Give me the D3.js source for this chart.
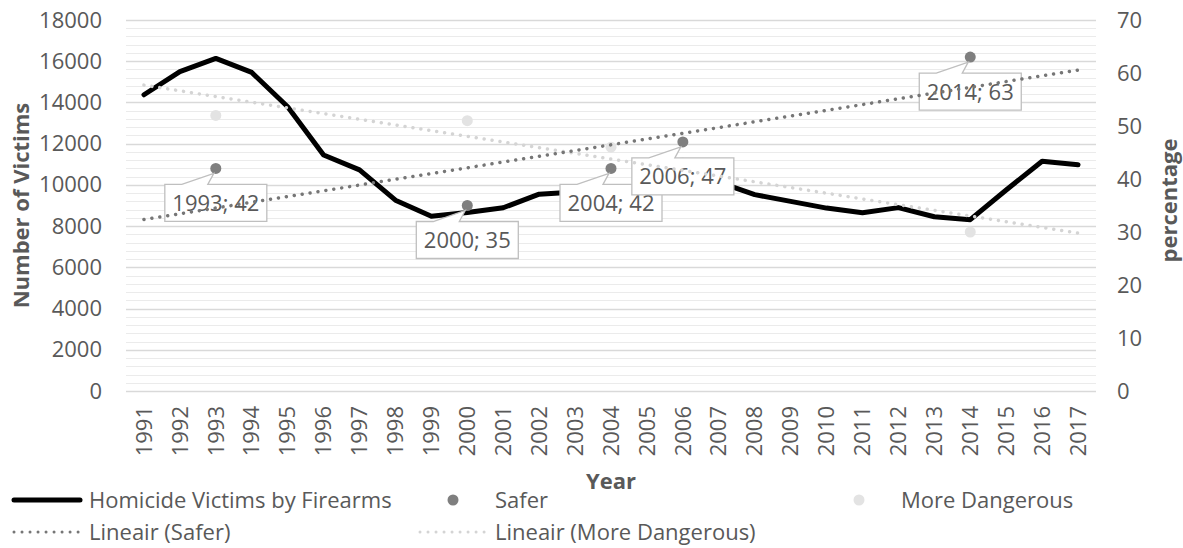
<!DOCTYPE html>
<html>
<head>
<meta charset="utf-8">
<script src="https://cdn.jsdelivr.net/npm/d3@7"></script>
<style>
  html, body { margin: 0; padding: 0; background: #ffffff; }
  svg { display: block; font-family: "Open Sans", "Noto Sans", sans-serif; }
</style>
</head>
<body>
<svg id="chart" width="1183" height="548"></svg>
<script>
// ---- data ----
const years = [1991, 1992, 1993, 1994, 1995, 1996, 1997, 1998, 1999, 2000,
               2001, 2002, 2003, 2004, 2005, 2006, 2007, 2008, 2009, 2010,
               2011, 2012, 2013, 2014, 2015, 2016, 2017];
const homicideVictims = [14373, 15500, 16136, 15456, 13790, 11453, 10729, 9257, 8480, 8661,
                         8890, 9550, 9659, 9385, 10158, 10225, 10129, 9528, 9199, 8874,
                         8653, 8897, 8454, 8312, 9750, 11150, 10982];
const surveyYears = [1993, 2000, 2004, 2006, 2014];
const saferPct = [42, 35, 42, 47, 63];
const dangerousPct = [52, 51, 46, 43, 30];
const leftTicks = [0, 2000, 4000, 6000, 8000, 10000, 12000, 14000, 16000, 18000];
const rightTicks = [0, 10, 20, 30, 40, 50, 60, 70];
const seriesNames = ["Homicide Victims by Firearms", "Safer", "More Dangerous",
                     "Lineair (Safer)", "Lineair (More Dangerous)"];

// ---- layout ----
const plot = { left: 126, right: 1096, top: 20, bottom: 391 };
const textColor = "#595959";
const fontSize = "22px";

const svg = d3.select("#chart");

const x = d3.scaleBand().domain(years).range([plot.left, plot.right]).padding(0);
const cx = yr => x(yr) + x.bandwidth() / 2;
const yL = d3.scaleLinear().domain([0, 18000]).range([plot.bottom, plot.top]);
const yR = d3.scaleLinear().domain([0, 70]).range([plot.bottom, plot.top]);

// gridlines: minor every 400, major every 2000
const gridVals = d3.range(0, 18001, 400);
svg.append("g").selectAll("line").data(gridVals.filter(v => v % 2000 !== 0)).join("line")
  .attr("x1", plot.left).attr("x2", plot.right)
  .attr("y1", d => Math.round(yL(d)) + 0.5).attr("y2", d => Math.round(yL(d)) + 0.5)
  .attr("stroke", "#ebebeb").attr("stroke-width", 1);
svg.append("g").selectAll("line").data(leftTicks).join("line")
  .attr("x1", plot.left).attr("x2", plot.right)
  .attr("y1", d => Math.round(yL(d)) + 0.5).attr("y2", d => Math.round(yL(d)) + 0.5)
  .attr("stroke", "#d9d9d9").attr("stroke-width", 1.3);

// axes
function styleAxis(g) {
  g.select(".domain").remove();
  g.selectAll(".tick line").remove();
  g.selectAll("text").attr("fill", textColor).style("font-size", fontSize)
    .style("font-family", '"Open Sans", sans-serif');
}
svg.append("g").attr("transform", `translate(${plot.left},0)`)
  .call(d3.axisLeft(yL).tickValues(leftTicks).tickSize(0).tickPadding(24).tickFormat(d3.format("d")))
  .call(styleAxis);
svg.append("g").attr("transform", `translate(${plot.right},0)`)
  .call(d3.axisRight(yR).tickValues(rightTicks).tickSize(0).tickPadding(21).tickFormat(d3.format("d")))
  .call(styleAxis);
const xAxis = svg.append("g").attr("transform", `translate(0,${plot.bottom})`)
  .call(d3.axisBottom(x).tickSize(0).tickFormat(d3.format("d")))
  .call(styleAxis);
xAxis.selectAll("text")
  .attr("transform", "rotate(-90)")
  .attr("x", -15).attr("y", 0).attr("dy", "0.35em")
  .style("text-anchor", "end");

// axis titles
svg.append("text").attr("transform", `translate(29,${(plot.top + plot.bottom) / 2}) rotate(-90)`)
  .attr("text-anchor", "middle").attr("fill", textColor)
  .style("font-size", fontSize).style("font-weight", "bold").text("Number of Victims");
svg.append("text").attr("transform", `translate(1177,${(plot.top + plot.bottom) / 2 - 5}) rotate(-90)`)
  .attr("text-anchor", "middle").attr("fill", textColor)
  .style("font-size", fontSize).style("font-weight", "bold").text("percentage");
svg.append("text").attr("x", (plot.left + plot.right) / 2).attr("y", 489)
  .attr("text-anchor", "middle").attr("fill", textColor)
  .style("font-size", fontSize).style("font-weight", "bold").text("Year");

// homicide line
const homicidePts = years.map((yr, i) => [cx(yr), yL(homicideVictims[i])]);
svg.append("path").attr("d", d3.line()(homicidePts))
  .attr("fill", "none").attr("stroke", "#000").attr("stroke-width", 5)
  .attr("stroke-linejoin", "round").attr("stroke-linecap", "round");

// survey points
const safer = surveyYears.map((yr, i) => ({ yr, v: saferPct[i] }));
const dangerous = surveyYears.map((yr, i) => ({ yr, v: dangerousPct[i] }));
svg.append("g").selectAll("circle").data(dangerous).join("circle")
  .attr("cx", d => cx(d.yr)).attr("cy", d => yR(d.v)).attr("r", 5.5).attr("fill", "#e3e3e3");
svg.append("g").selectAll("circle").data(safer).join("circle")
  .attr("cx", d => cx(d.yr)).attr("cy", d => yR(d.v)).attr("r", 5.5).attr("fill", "#7f7f7f");

// callout labels for the Safer series
const boxW = 102, boxH = 37;
const callouts = svg.append("g").selectAll("g").data(safer).join("g");
callouts.append("path")
  .attr("d", d => {
    const px = cx(d.yr), py = yR(d.v);
    const top = py + 16, l = px - boxW / 2, r = px + boxW / 2, b = top + boxH;
    return `M${l},${top}L${px - 34},${top}L${px - 2},${py + 5}L${px - 8},${top}L${r},${top}L${r},${b}L${l},${b}Z`;
  })
  .attr("fill", "#fff").attr("stroke", "#bfbfbf").attr("stroke-width", 1.3);
callouts.append("text")
  .attr("x", d => cx(d.yr)).attr("y", d => yR(d.v) + 16 + boxH / 2)
  .attr("dy", "0.36em").attr("text-anchor", "middle").attr("fill", textColor)
  .style("font-size", fontSize).text(d => `${d.yr}; ${d.v}`);

// linear trendlines (least squares on category index)
function linearFit(xs, ys) {
  const mx = d3.mean(xs), my = d3.mean(ys);
  const sxy = d3.sum(xs, (v, i) => (v - mx) * (ys[i] - my));
  const sxx = d3.sum(xs, v => (v - mx) * (v - mx));
  const slope = sxy / sxx;
  return t => my + slope * (t - mx);
}
const idx = surveyYears.map(yr => years.indexOf(yr));
const fitSafer = linearFit(idx, saferPct);
const fitDanger = linearFit(idx, dangerousPct);
const first = 0, last = years.length - 1;
function trend(fit, color) {
  svg.append("path")
    .attr("d", d3.line()([[cx(years[first]), yR(fit(first))], [cx(years[last]), yR(fit(last))]]))
    .attr("fill", "none").attr("stroke", color).attr("stroke-width", 3.5)
    .attr("stroke-linecap", "round").attr("stroke-dasharray", "0.01 8");
}
trend(fitDanger, "#d4d4d4");
trend(fitSafer, "#767676");

// legend
const legend = svg.append("g");
const cols = [12, 418, 824];
const rows = [500, 532];
const entries = [
  { name: seriesNames[0], col: 0, row: 0, type: "line" },
  { name: seriesNames[1], col: 1, row: 0, type: "dot", color: "#7f7f7f" },
  { name: seriesNames[2], col: 2, row: 0, type: "dot", color: "#e3e3e3" },
  { name: seriesNames[3], col: 0, row: 1, type: "dotted", color: "#767676" },
  { name: seriesNames[4], col: 1, row: 1, type: "dotted", color: "#d4d4d4" }
];
entries.forEach(e => {
  const x0 = cols[e.col], yy = rows[e.row];
  if (e.type === "line") {
    legend.append("line").attr("x1", x0 + 2).attr("x2", x0 + 68).attr("y1", yy).attr("y2", yy)
      .attr("stroke", "#000").attr("stroke-width", 5).attr("stroke-linecap", "round");
  } else if (e.type === "dot") {
    legend.append("circle").attr("cx", x0 + 35).attr("cy", yy).attr("r", 5.5).attr("fill", e.color);
  } else {
    legend.append("line").attr("x1", x0 + 2).attr("x2", x0 + 70).attr("y1", yy).attr("y2", yy)
      .attr("stroke", e.color).attr("stroke-width", 3)
      .attr("stroke-linecap", "round").attr("stroke-dasharray", "0.01 8");
  }
  legend.append("text").attr("x", x0 + 77).attr("y", yy).attr("dy", "0.36em")
    .attr("fill", textColor).style("font-size", fontSize).text(e.name);
});
</script>
</body>
</html>
